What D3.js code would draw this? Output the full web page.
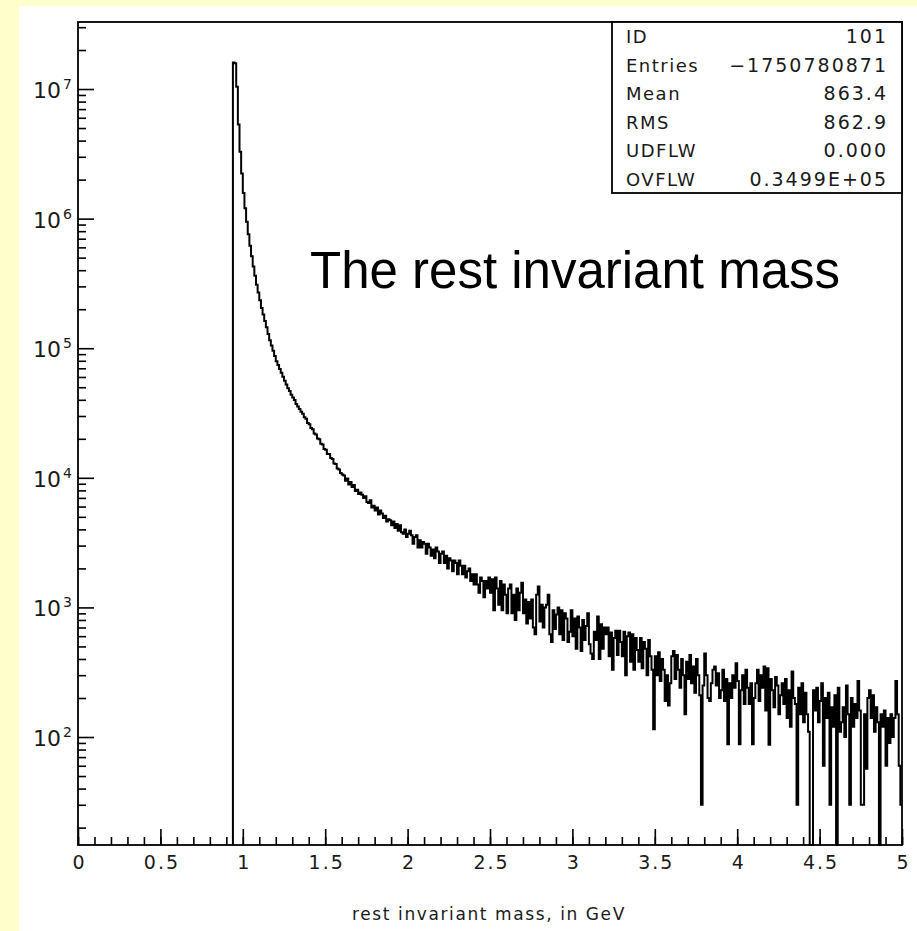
<!DOCTYPE html>
<html>
<head>
<meta charset="utf-8">
<script src="https://cdn.jsdelivr.net/npm/d3@7"></script>
<style>
  body { margin: 0; background: #ffffcc; }
  svg text { font-family: "DejaVu Sans", sans-serif; fill: #1a1a1a; }
</style>
</head>
<body>
<div id="chart"></div>
<script>
// histogram 101: 500 bins of 0.01 GeV from 0 to 5, bins below 0.94 are empty
var bin_width = 0.01;
var first_bin_mass = 0.94;
var bin_counts = [
    16000000, 15800000, 10400000, 5330000, 3280000, 2230000,                 // 0.94 - 0.99
    1580000, 1200000, 946000, 759000, 617000, 513000, 427000, 363000, 309000, 269000,   // 1.00
    234000, 204000, 182000, 162000, 145000, 129000, 115000, 105000, 95500, 87100,       // 1.10
    79400, 74100, 69200, 64600, 60300, 56200, 52500, 49000, 46800, 43700,               // 1.20
    41700, 39800, 37200, 35500, 33900, 32400, 31200, 29300, 28600, 26500,               // 1.30
    25900, 24200, 23700, 22000, 21600, 20100, 19800, 18300, 18100, 16700,               // 1.40
    16500, 15300, 15300, 14200, 14000, 12900, 12800, 11800, 11600, 10900,               // 1.50
    10600, 10400, 9500, 9900, 8900, 9300, 8500, 8800, 7900, 8100,                       // 1.60
    7500, 7700, 7400, 7000, 7200, 6500, 6400, 6700, 5900, 6100,                         // 1.70
    5600, 5900, 5200, 5600, 5300, 4900, 5100, 4600, 4800, 4700,                         // 1.80
    4300, 4600, 4100, 4400, 3900, 4300, 3800, 3700, 4000, 3500,                         // 1.90
    3700, 3900, 3600, 3100, 3500, 3600, 2900, 3300, 2900, 3200,                         // 2.00
    3100, 2600, 3100, 2900, 2500, 2800, 2400, 2900, 2700, 2200,                         // 2.10
    2600, 2700, 2200, 2500, 2000, 2400, 2300, 1900, 2300, 2200,                         // 2.20
    1800, 2300, 2100, 1800, 2100, 1700, 1900, 2000, 1600, 1800,                         // 2.30
    1500, 1800, 1500, 1300, 1700, 1600, 1200, 1600, 1400, 1700,                         // 2.40
    1300, 1650, 950, 1700, 1400, 1050, 1600, 950, 1500, 1250,                           // 2.50
    900, 1400, 1500, 900, 1250, 800, 1400, 950, 1300, 1550,                             // 2.60
    900, 1150, 750, 1100, 820, 1150, 700, 620, 1250, 1450,                              // 2.70
    780, 1050, 700, 1000, 1050, 1250, 620, 540, 950, 680,                               // 2.80
    880, 1000, 620, 950, 560, 900, 820, 540, 650, 950,                                  // 2.90
    600, 820, 480, 850, 700, 460, 800, 560, 720, 900,                                   // 3.00
    520, 440, 400, 650, 560, 850, 400, 740, 480, 700,                                   // 3.10
    620, 700, 420, 640, 330, 580, 660, 430, 660, 540,                                   // 3.20
    420, 650, 300, 600, 640, 380, 620, 330, 580, 470,                                   // 3.30
    380, 580, 340, 540, 480, 300, 560, 420, 330, 115,                                   // 3.40
    420, 300, 450, 270, 400, 330, 190, 300, 175, 260,                                   // 3.50
    420, 460, 280, 430, 330, 240, 400, 300, 150, 380,                                   // 3.60
    280, 430, 260, 350, 220, 400, 300, 210, 30, 250,                                    // 3.70
    440, 300, 200, 190, 260, 330, 350, 250, 310, 200,                                   // 3.80
    230, 330, 190, 280, 88, 260, 200, 300, 240, 370,                                    // 3.90
    270, 88, 230, 300, 180, 330, 240, 180, 260, 88,                                     // 4.00
    200, 260, 330, 190, 300, 240, 350, 160, 340, 87,                                    // 4.10
    280, 230, 170, 290, 250, 150, 210, 260, 180, 280,                                   // 4.20
    140, 230, 120, 320, 200, 180, 30, 240, 150, 260,                                    // 4.30
    130, 220, 150, 110, 0, 0, 230, 160, 240, 130,                                       // 4.40
    190, 260, 60, 200, 140, 220, 30, 170, 120, 210,                                     // 4.50
    0, 240, 110, 130, 170, 100, 250, 150, 30, 200,                                      // 4.60
    120, 180, 140, 270, 160, 30, 30, 150, 57, 200,                                      // 4.70
    230, 140, 210, 110, 170, 130, 0, 150, 120, 160,                                     // 4.80
    60, 140, 90, 150, 100, 140, 270, 150, 60, 30                                        // 4.90
];

var x_major = [0, 0.5, 1, 1.5, 2, 2.5, 3, 3.5, 4, 4.5, 5];
var x_labels = ["0", "0.5", "1", "1.5", "2", "2.5", "3", "3.5", "4", "4.5", "5"];
var y_decades = [2, 3, 4, 5, 6, 7];

var stats_names = ["ID", "Entries", "Mean", "RMS", "UDFLW", "OVFLW"];
var stats_values = ["101", "\u22121750780871", "863.4", "862.9", "0.000", "0.3499E+05"];

var title_text = "The rest invariant mass";
var x_title = "rest invariant mass, in GeV";

function draw_chart() {
    var width = 917, height = 931;
    var frame = {left: 78, right: 902, top: 22, bottom: 845};
    var y_min = 14.68, y_max = 3.29e7;

    var svg = d3.select("#chart").append("svg")
        .attr("width", width)
        .attr("height", height);

    // yellow page with the white picture on it
    svg.append("rect").attr("width", width).attr("height", height).attr("fill", "#ffffcc");
    svg.append("rect").attr("x", 19).attr("y", 6)
        .attr("width", width - 19).attr("height", height - 6).attr("fill", "#ffffff");

    var x = d3.scaleLinear().domain([0, 5]).range([frame.left, frame.right]);
    var y = d3.scaleLog().domain([y_min, y_max]).range([frame.bottom, frame.top]).clamp(true);

    // x axis: major ticks every 0.5, minor every 0.1, pointing inside
    var x_minor = d3.range(0, 51).map(function(d) { return d / 10; });
    svg.append("g")
        .attr("transform", "translate(0," + frame.bottom + ")")
        .call(d3.axisBottom(x).tickValues(x_minor).tickSize(-8).tickSizeOuter(0).tickFormat(""))
        .call(function(g) { g.select(".domain").remove(); });
    var x_axis = svg.append("g")
        .attr("transform", "translate(0," + frame.bottom + ")")
        .call(d3.axisBottom(x).tickValues(x_major).tickSize(-16).tickSizeOuter(0).tickPadding(11)
            .tickFormat(function(d, i) { return x_labels[i]; }));
    x_axis.select(".domain").remove();
    x_axis.selectAll("text")
        .attr("font-size", "19px")
        .attr("letter-spacing", "2px")
        .attr("dx", "1px")
        .attr("fill", "#1a1a1a");

    // y axis: decades and 2..9 minor ticks
    var y_minor = [];
    for (var k = 1; k <= 7; k++) {
        for (var m = 2; m <= 9; m++) {
            var v = m * Math.pow(10, k);
            if (v > y_min && v < y_max) y_minor.push(v);
        }
    }
    svg.append("g")
        .attr("transform", "translate(" + frame.left + ",0)")
        .call(d3.axisLeft(y).tickValues(y_minor).tickSize(-8).tickSizeOuter(0).tickFormat(""))
        .call(function(g) { g.select(".domain").remove(); });
    var y_axis = svg.append("g")
        .attr("transform", "translate(" + frame.left + ",0)")
        .call(d3.axisLeft(y).tickValues(y_decades.map(function(d) { return Math.pow(10, d); }))
            .tickSize(-16).tickSizeOuter(0).tickFormat(""));
    y_axis.select(".domain").remove();
    svg.selectAll(".tick line").attr("stroke", "#000").attr("stroke-width", 1.6);

    // labels like 10^7 with the exponent raised
    var y_labels = svg.append("g");
    y_decades.forEach(function(d) {
        var t = y_labels.append("text")
            .attr("x", 33)
            .attr("y", y(Math.pow(10, d)) + 9)
            .attr("font-size", "22px");
        t.append("tspan").text("10");
        t.append("tspan").attr("font-size", "14px").attr("dx", 2).attr("dy", -9).text(d);
    });

    // histogram drawn as a step line, empty bins sit on the bottom axis
    var steps = [{m: first_bin_mass, c: 0}];
    bin_counts.forEach(function(c, i) {
        var lo = first_bin_mass + i * bin_width;
        steps.push({m: lo, c: c});
        steps.push({m: lo + bin_width, c: c});
    });
    var line = d3.line()
        .x(function(d) { return x(d.m); })
        .y(function(d) { return d.c > 0 ? y(d.c) : y(y_min); });
    svg.append("path")
        .datum(steps)
        .attr("d", line)
        .attr("fill", "none")
        .attr("stroke", "#000")
        .attr("stroke-width", 2);

    // frame
    svg.append("rect")
        .attr("x", frame.left).attr("y", frame.top)
        .attr("width", frame.right - frame.left).attr("height", frame.bottom - frame.top)
        .attr("fill", "none").attr("stroke", "#000").attr("stroke-width", 1.8);

    // statistics box
    var box = {left: 612, top: frame.top, right: frame.right, bottom: 193};
    svg.append("rect")
        .attr("x", box.left).attr("y", box.top)
        .attr("width", box.right - box.left).attr("height", box.bottom - box.top)
        .attr("fill", "#fff").attr("stroke", "#000").attr("stroke-width", 1.8);
    var row_h = (box.bottom - box.top) / stats_names.length;
    svg.append("g").selectAll("text").data(stats_names).enter().append("text")
        .attr("x", box.left + 14)
        .attr("y", function(d, i) { return box.top + row_h * i + 21; })
        .attr("font-size", "18px")
        .attr("letter-spacing", "1.5px")
        .text(function(d) { return d; });
    svg.append("g").selectAll("text").data(stats_values).enter().append("text")
        .attr("x", box.right - 14)
        .attr("y", function(d, i) { return box.top + row_h * i + 21; })
        .attr("font-size", "19px")
        .attr("letter-spacing", "2px")
        .attr("text-anchor", "end")
        .text(function(d) { return d; });

    // big caption inside the plot
    svg.append("text")
        .attr("x", 310).attr("y", 288)
        .style("font-family", "'Liberation Sans', Arial, sans-serif")
        .attr("font-size", "51px")
        .style("fill", "#000")
        .text(title_text);

    // x axis title
    svg.append("text")
        .attr("x", 489)
        .attr("y", 920)
        .attr("text-anchor", "middle")
        .attr("font-size", "17px")
        .attr("letter-spacing", "1.6px")
        .text(x_title);
}

draw_chart();
</script>
</body>
</html>
